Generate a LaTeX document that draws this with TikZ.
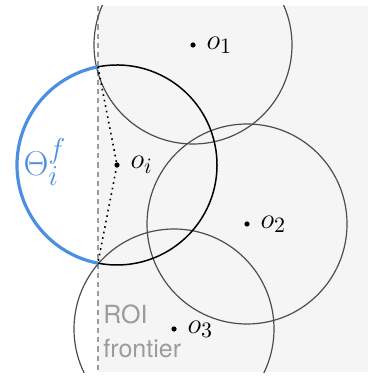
\documentclass[tikz,border=0pt]{standalone}
\usepackage{fontspec}
\setsansfont{TeX Gyre Heros}
\usepackage{tikz}
\usetikzlibrary{positioning}
\definecolor{roibg}{HTML}{F5F5F5}
\definecolor{disk}{HTML}{4D4D4D}
\definecolor{frontblue}{HTML}{4A8FE0}
\definecolor{frontgray}{HTML}{9C9C9C}
\tikzset{fig/.style={line join=round,x=0.5pt,y=-0.5pt},
  center/.style={circle,fill=black,inner sep=0pt,minimum size=2.6pt},
  olabel/.style={right=1.8pt of #1,font=\fontsize{15}{18}\selectfont}}

\begin{document}
\begin{tikzpicture}[fig]
  \useasboundingbox (0,0) rectangle (368,378);
  \begin{scope}
   \clip (0,6) rectangle (368,372);
   \fill[roibg] (98,6) rectangle (368,372);
   \draw[frontgray,line width=0.8pt,dash pattern=on 2.6pt off 2pt] (98,6) -- (98,372);
   % centres
   \node[center] (o1) at (193,45) {};\node[center] (o2) at (247,224) {};
   \node[center] (o3) at (174,329) {};\node[center] (oi) at (117,165) {};
   \draw[disk,line width=0.6pt] (o1.center) circle[radius=99];
   \draw[disk,line width=0.6pt] (o2.center) circle[radius=100];
   \draw[disk,line width=0.6pt] (o3.center) circle[radius=100];
   % safe region of o_i, cut by the frontier
   \coordinate (ftop) at ([shift={(-101:100)}]oi.center);
   \coordinate (fbot) at ([shift={(101:100)}]oi.center);
   \draw[black,line width=0.75pt] (ftop) arc[start angle=-101,end angle=101,radius=100];
   \draw[frontblue,line width=1.6pt] (fbot) arc[start angle=101,end angle=259,radius=100];
   \draw[black,line width=0.8pt,dotted] (ftop) -- (oi.center) -- (fbot);
  \end{scope}
  \node[olabel=o1] (o1lbl) {$o_1$};\node[olabel=o2] (o2lbl) {$o_2$};
  \node[olabel=o3] (o3lbl) {$o_3$};\node[olabel=oi] (oilbl) {$o_i$};
  \node[text=frontblue,font=\fontsize{19}{22}\selectfont] (thetalbl) at (45,162) {$\Theta_i^f$};
  \node[anchor=base west,inner sep=0pt,align=left,text=frontgray,font=\sffamily\fontsize{12.5}{17}\selectfont] (roilbl) at (103,357) {ROI\\frontier};
\end{tikzpicture}
\end{document}
